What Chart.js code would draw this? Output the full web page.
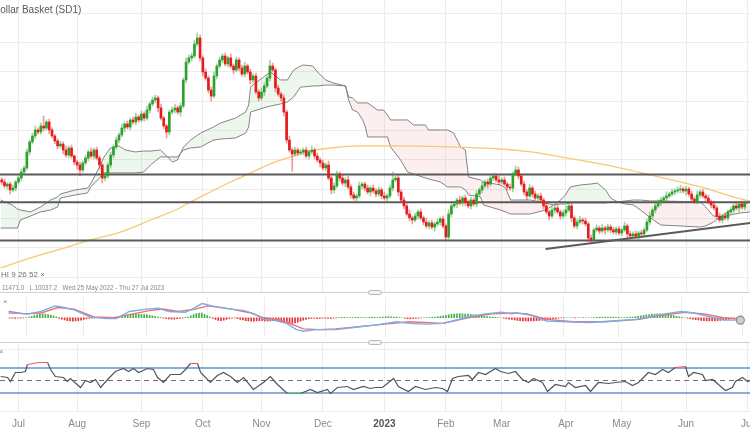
<!DOCTYPE html>
<html><head><meta charset="utf-8">
<script src="https://cdn.jsdelivr.net/npm/chart.js@4.4.0/dist/chart.umd.min.js"></script>
<style>
html,body{margin:0;padding:0;background:#fff;width:750px;height:430px;overflow:hidden;font-family:"Liberation Sans",Arial,sans-serif;}
.pane{position:absolute;left:0;width:750px;}
canvas{display:block;}
.txt{position:absolute;white-space:pre;color:#777;}
.sep{position:absolute;left:0;width:750px;height:1px;background:#d2d2d2;}
.handle{position:absolute;left:368px;width:14px;height:5px;border:1px solid #b5b5b5;background:#f3f3f3;border-radius:3px;box-sizing:border-box;}
</style></head><body>
<div class="pane" style="top:0;height:292px"><canvas id="main" width="750" height="292"></canvas></div>
<div class="pane" style="top:292px;height:50px"><canvas id="macd" width="750" height="50"></canvas></div>
<div class="pane" style="top:342px;height:88px"><canvas id="rsi" width="750" height="88"></canvas></div>
<div class="txt" style="left:-7px;top:4px;font-size:10px;line-height:12px;color:#5a5a5a">Dollar Basket (SD1)</div>
<div class="txt" style="left:1px;top:270px;font-size:8px;line-height:10px;color:#707070">HI 9 26 52 ×</div>
<div class="txt" style="left:2px;top:284px;font-size:6.3px;line-height:8px;color:#888">11471.0   L 10037.2   Wed 25 May 2022 - Thu 27 Jul 2023</div>
<div class="sep" style="top:292px"></div>
<div class="sep" style="top:342px"></div>
<div class="handle" style="top:290px"></div>
<div class="handle" style="top:340px"></div>
<div class="txt" style="left:3px;top:297px;font-size:8px;line-height:10px;color:#888">×</div>
<div class="txt" style="left:-1px;top:347px;font-size:8px;line-height:10px;color:#888">×</div>
<script>
// ---------- data ----------
const monthTicks  = [0,21,44,66,87,109,131,153,173,196,216,239,261];
const monthLabels = ['Jul','Aug','Sep','Oct','Nov','Dec','2023','Feb','Mar','Apr','May','Jun','Jul'];
const priceGrid   = [9800,10000,10200,10400,10600,10800,11000,11200,11400,11600];
const rsiGrid     = [0,100];

const firstIndex = -6;
const firstOpen  = 10462;
const closes = [
10448,10421,10434,10394,10407,10448,10475,10516,10544,10653,
10721,10762,10803,10789,10830,10816,10857,10803,10762,10728,
10694,10707,10666,10632,10680,10625,10584,10564,10530,10578,
10612,10653,10625,10666,10612,10564,10475,10489,10564,10632,
10687,10734,10769,10816,10844,10823,10871,10857,10891,10871,
10912,10884,10939,10980,11007,11021,10953,10884,10830,10789,
10925,10939,10953,10925,10966,11144,11266,11294,11307,11389,
11430,11294,11198,11157,11075,11034,11171,11239,11280,11307,
11253,11294,11239,11212,11280,11225,11184,11239,11198,11144,
11171,11062,11021,11062,11103,11157,11239,11212,11089,11048,
11021,10925,10734,10666,10639,10666,10646,10653,10666,10625,
10653,10666,10625,10598,10578,10544,10564,10475,10394,10421,
10503,10475,10441,10462,10414,10360,10339,10353,10421,10434,
10407,10380,10407,10387,10366,10394,10353,10339,10353,10407,
10462,10475,10380,10325,10285,10230,10203,10189,10216,10244,
10203,10175,10148,10169,10141,10162,10175,10196,10148,10073,
10230,10285,10298,10325,10305,10339,10312,10285,10325,10298,
10366,10394,10421,10448,10434,10475,10489,10462,10448,10462,
10434,10414,10407,10503,10530,10489,10434,10380,10353,10407,
10366,10339,10353,10325,10285,10244,10216,10257,10271,10244,
10216,10237,10257,10285,10203,10148,10175,10189,10182,10162,
10066,10053,10121,10134,10114,10134,10121,10141,10121,10107,
10128,10100,10121,10148,10094,10080,10094,10080,10100,10094,
10121,10175,10216,10257,10285,10312,10325,10339,10353,10366,
10380,10387,10394,10400,10387,10400,10366,10332,10319,10360,
10380,10353,10339,10312,10291,10271,10216,10189,10216,10203,
10244,10257,10285,10271,10298,10278,10305];
const upWick = [
14,20,10,14,20,10,14,20,14,20, 14,20,27,14,20,68,14,20,14,10,
14,20,14,27,14,20,10,14,20,14, 20,14,27,14,20,14,10,20,14,20,
14,20,14,27,14,20,14,20,27,14, 20,14,27,14,20,20,14,27,14,10,
14,20,27,14,20,14,27,20,20,27, 34,20,14,20,14,20,27,14,20,14,
20,14,27,14,20,14,20,27,14,20, 14,20,14,27,20,14,41,20,14,20,
14,20,14,27,14,20,14,20,14,20, 14,27,14,20,14,20,14,27,14,20,
20,14,20,14,27,14,20,14,27,14, 14,20,14,20,14,20,14,27,14,20,
55,14,20,14,20,14,27,14,20,14, 20,14,27,14,20,14,20,14,20,14,
27,14,20,14,27,14,20,14,20,14, 20,14,27,14,20,14,20,14,27,14,
20,14,20,14,27,20,14,20,14,27, 14,20,14,20,14,27,14,20,14,20,
14,20,27,14,20,14,20,27,14,20, 14,20,14,20,14,27,14,20,14,20,
14,20,14,27,14,20,14,20,14,20, 14,20,27,14,20,14,20,14,27,14,
20,14,20,27,14,20,14,20,14,27, 14,20,14,20,14,27,14,20,14,20,
14,20,14,27,14,20,14];
const dnWick = [
20,14,20,27,14,20,14,20,14,14, 20,14,20,14,14,20,14,27,14,20,
20,14,27,14,20,14,20,27,41,14, 14,20,14,20,14,27,34,20,14,20,
20,14,20,14,27,14,20,14,20,14, 14,20,14,20,14,20,27,14,20,41,
20,14,20,14,27,14,20,14,20,14, 14,20,27,14,20,34,14,20,14,20,
14,20,14,27,14,20,14,20,14,27, 20,14,20,14,27,14,20,14,27,14,
20,27,20,14,118,14,20,14,20,14, 20,14,20,14,27,14,20,14,27,20,
14,20,14,27,14,20,14,20,14,20, 20,14,27,14,20,14,20,14,20,14,
20,14,27,14,20,14,20,27,14,20, 14,20,14,20,14,27,14,20,14,20,
14,20,14,27,14,20,27,14,20,14, 20,14,20,14,27,14,20,14,20,14,
14,20,14,27,14,20,14,20,27,14, 20,14,20,14,20,14,27,14,20,14,
20,14,20,14,27,14,20,14,20,14, 20,14,20,14,20,14,27,14,20,14,
20,14,20,14,27,14,20,14,27,14, 20,14,20,14,20,14,27,14,20,14,
14,20,14,20,14,27,14,20,14,20, 20,14,27,14,20,14,20,14,20,14,
20,14,20,14,27,14,20];

const levels = [10500,10310,10050];
const trendX = [188.7,262.1];
const trendY = [9991,10169];

const maX = [-6.4,4.3,15.0,25.8,36.5,47.3,56.2,61.6,68.7,75.9,83.1,90.2,97.4,104.5,111.7,122.4,136.8,154.7,172.6,183.4,194.1,208.4,226.3,244.2,260.3,262.1];
const maY = [9862,9930,9991,10053,10107,10189,10257,10312,10380,10448,10510,10571,10619,10660,10680,10694,10694,10687,10673,10653,10619,10571,10496,10414,10325,10319];

const cloudX = [-6.4,-2.2,-0.4,0.7,4.3,7.9,11.5,14.0,15.0,20.4,24.7,25.8,29.4,30.4,32.9,35.8,38.3,41.9,44.8,47.3,50.8,53.4,55.1,56.9,59.1,61.6,65.2,69.8,72.3,77.7,81.3,82.4,83.1,87.7,90.2,93.8,96.3,98.5,101.0,102.0,105.3,107.1,109.9,112.8,117.1,118.2,119.6,121.4,123.2,124.2,125.0,128.5,130.7,132.1,133.2,136.8,139.3,141.4,145.7,146.8,151.1,153.6,155.8,158.3,160.0,161.1,165.4,166.5,172.6,174.4,176.2,183.3,188.7,191.6,194.1,195.8,197.6,201.2,204.8,207.3,210.2,212.0,214.5,217.3,220.2,222.7,226.3,229.9,244.2,246.0,248.8,251.3,254.9,258.5,262.1];
const spanA = [10325,10291,10264,10257,10244,10278,10325,10346,10366,10394,10407,10434,10564,10612,10680,10694,10666,10653,10659,10659,10666,10619,10584,10598,10687,10734,10782,10823,10850,10884,10925,10973,11096,11164,11198,11144,11144,11212,11239,11246,11239,11198,11144,11123,11103,11007,10939,10925,10871,10823,10755,10755,10755,10755,10687,10598,10516,10503,10475,10469,10448,10414,10414,10414,10394,10360,10346,10291,10257,10244,10230,10230,10257,10291,10325,10360,10414,10428,10434,10441,10394,10339,10312,10298,10291,10257,10203,10155,10141,10148,10175,10209,10257,10291,10312];
const spanB = [10134,10134,10134,10189,10216,10244,10257,10278,10339,10360,10373,10414,10482,10510,10510,10510,10510,10510,10516,10564,10619,10619,10619,10619,10666,10680,10687,10734,10741,10748,10782,10823,10925,10953,10966,10980,10994,11028,11096,11096,11103,11103,11109,11109,11103,11028,11021,10987,10987,10987,10987,10939,10939,10905,10871,10871,10871,10837,10837,10803,10803,10803,10782,10687,10666,10482,10462,10448,10428,10407,10325,10325,10305,10291,10298,10298,10305,10305,10305,10305,10305,10312,10312,10319,10325,10325,10319,10319,10312,10278,10216,10209,10223,10237,10244];

const macdX    = [-6.4,0.7,5.4,10.4,12.5,17.5,23.3,29.4,32.9,37.6,43.7,48.3,51.9,58.0,60.5,64.1,67.7,74.8,79.5,83.1,86.6,90.2,94.9,98.5,101.0,105.6,112.8,117.8,122.4,127.8,135.0,139.6,145.7,151.8,155.4,161.1,167.2,173.3,176.9,179.0,184.0,189.7,196.9,205.5,213.7,222.0,227.0,232.7,238.8,243.4,249.5,254.2,260.3];
const macdLine = [60,50,80,150,140,100,10,-10,-10,80,110,120,80,70,110,180,150,110,90,50,-20,-30,-70,-150,-170,-150,-150,-130,-110,-90,-50,-70,-80,-70,-40,10,50,70,50,60,30,-40,-50,-60,-40,-20,10,50,80,60,10,-30,-30];
const signalX    = [-6.4,-0.4,5.4,11.5,17.5,24.7,31.9,39.0,44.8,49.8,55.5,61.6,66.2,74.8,82.0,86.6,92.7,97.4,101.0,107.0,112.8,127.8,139.6,151.8,161.1,169.7,177.9,182.6,189.7,199.4,211.2,223.4,231.6,239.9,247.0,254.2,260.3];
const signalLine = [80,50,60,130,110,10,0,50,90,110,80,110,150,110,60,0,-30,-90,-140,-150,-140,-90,-50,-70,0,50,60,50,-20,-50,-50,-20,30,70,50,0,-20];
const histogram = [
-5,-5,-8,-6,-4,-2,0,
10,20,30,38,45,50,48,42,35,25,12,
-8,-18,-28,-35,-40,-42,-40,-35,-30,-22,-15,-8,
-4,-2,2,4,3,-2,-4,-3,0,3,
10,18,26,34,42,48,50,48,45,42,38,32,25,18,10,
4,-4,-10,-15,-18,-16,-12,-8,-4,2,10,
25,40,52,60,58,45,28,10,
-8,-22,-32,-36,-30,-20,-10,-4,-2,
-10,-20,-28,-35,-40,-42,-44,-40,-38,-35,-38,-42,-40,
-35,-40,-48,-55,-62,-68,-72,-70,-65,-55,-42,-30,-20,-12,
-8,-6,-10,-8,-5,-4,-8,-10,-6,
-2,4,6,5,3,2,4,6,5,3,2,4,6,8,6,4,
8,10,12,14,12,10,8,4,0,-6,
-12,-15,-12,-8,-4,-2,0,2,4,6,10,14,20,
26,32,38,44,48,50,52,50,48,46,44,40,36,30,25,20,16,12,8,5,2,0,
-4,-10,-16,-22,-28,-32,-36,-38,-40,-42,-40,-38,-36,-34,-30,-26,-22,-18,-14,-10,-6,-3,
-1,0,1,0,-1,0,1,2,1,0,1,
4,6,8,8,10,10,8,8,6,6,4,4,6,8,10,14,
20,26,32,38,42,46,48,50,50,48,44,40,34,28,20,12,5,0,
-6,-12,-18,-24,-28,-32,-36,-38,-40,-40,-38,-36,-32,-28,-24,-20,-15,-10,-6,-3];

const rsiX = [-6.4,-3.9,-2.9,-1.1,0.7,2.5,3.2,5.4,7.2,9.0,10.4,11.5,13.2,16.1,17.5,18.6,22.2,24.0,25.8,27.6,29.4,31.9,34.7,37.6,39.4,41.2,43.0,46.2,48.3,49.8,51.9,54.4,58.0,59.8,61.6,64.1,65.2,68.7,71.2,73.4,75.9,78.4,80.6,84.1,87.7,90.2,92.7,96.3,101.0,104.5,107.0,110.6,111.7,114.2,117.8,119.9,123.5,126.0,127.8,130.3,132.5,134.3,136.0,139.6,142.1,145.7,149.3,151.8,153.6,155.4,157.5,161.1,162.5,164.7,167.2,170.8,172.6,175.4,177.9,180.4,182.6,184.4,187.6,189.4,192.2,195.8,196.9,199.4,203.0,204.8,207.6,211.2,213.7,217.3,219.8,222.0,225.5,228.0,230.6,232.7,235.2,238.8,239.9,241.7,244.9,246.0,248.5,250.6,253.1,255.6,256.7,259.2,261.0,262.1];
const rsiValues = [56.4,54.8,48.4,62.8,62.8,64.4,75.6,77.2,78.8,78.8,78.8,67.6,56.4,54.8,48.4,53.2,38.8,50,46.8,51.6,38.8,51.6,64.4,69.2,64.4,69.2,62.8,69.2,67.6,54.8,46.8,59.6,59.6,67.6,77.2,77.2,62.8,46.8,58,62.8,56.4,46.8,54.8,35.6,46.8,56.4,43.6,29.2,29.2,35.6,30.8,35.6,29.2,38.8,40.4,35.6,40.4,37.2,38.8,38.8,46.8,53.2,40.4,32.4,40.4,35.6,38.8,37.2,32.4,53.2,56.4,58,51.6,62.8,59.6,69.2,64.4,61.2,64.4,51.6,46.8,53.2,46.8,32.4,43.6,40.4,46.8,38.8,42,32.4,46.8,45.2,46.8,48.4,42,46.8,62.8,59.6,67.6,62.8,70.8,72.4,56.4,62.8,59.6,50,51.6,43.6,34,38.8,48.4,54.8,48.4,50];
const rsiLevels = [70,50,30];

// ---------- build ----------
Chart.defaults.font.family = "'Liberation Sans', Arial, sans-serif";
const X_MIN = -6.62, X_MAX = 261.9;
const UP='rgb(46,160,46)', DN='rgb(228,28,28)', UPW='rgba(46,160,46,0.45)', DNW='rgba(228,28,28,0.45)';

const bodies=[], wicks=[], bodyCol=[], wickCol=[];
closes.forEach((c,k)=>{
  const x = firstIndex + k;
  const o = k===0 ? firstOpen : closes[k-1];
  const up = c >= o;
  bodies.push({x:x, y:[o,c]});
  wicks.push({x:x, y:[Math.min(o,c)-dnWick[k], Math.max(o,c)+upWick[k]]});
  bodyCol.push(up?UP:DN); wickCol.push(up?UPW:DNW);
});
const pts = (xs, ys) => xs.map((x,i)=>({x:x, y:ys[i]}));
const across = v => [{x:X_MIN,y:v},{x:X_MAX,y:v}];
const isYear = c => !!(c && c.tick && monthLabels[monthTicks.indexOf(c.tick.value)]==='2023');

const xScale = extra => Object.assign({
  type:'linear', min:X_MIN, max:X_MAX, offset:false,
  grid:{color:'#ececec', drawTicks:false, offset:false},
  border:{display:false}, ticks:{display:false},
  afterBuildTicks:s=>{ s.ticks = monthTicks.map(v=>({value:v})); }
}, extra||{});
const base = scales => ({responsive:false, animation:false, events:[], layout:{padding:0},
  plugins:{legend:{display:false}, tooltip:{enabled:false}}, scales:scales});

new Chart(document.getElementById('main'), {
  type:'bar',
  data:{datasets:[
    {type:'bar', data:bodies, backgroundColor:bodyCol, barThickness:2, grouped:false, minBarLength:1, borderWidth:0, order:1},
    {type:'bar', data:wicks, backgroundColor:wickCol, barThickness:1, grouped:false, borderWidth:0, order:2},
    ...levels.map(v=>({type:'line', data:across(v), borderColor:'#5a5a5a', borderWidth:2, pointRadius:0, order:3})),
    {type:'line', data:pts(trendX,trendY), borderColor:'#5a5a5a', borderWidth:2, pointRadius:0, order:3},
    {type:'line', data:pts(maX,maY), borderColor:'rgb(250,200,110)', borderWidth:1.3, pointRadius:0, cubicInterpolationMode:'monotone', order:4},
    {type:'line', data:pts(cloudX,spanA), borderColor:'rgba(125,125,125,0.95)', borderWidth:1, pointRadius:0,
      fill:{target:'+1', above:'rgba(90,180,90,0.10)', below:'rgba(225,110,110,0.11)'}, order:6},
    {type:'line', data:pts(cloudX,spanB), borderColor:'rgba(125,125,125,0.95)', borderWidth:1, pointRadius:0, fill:false, order:5}
  ]},
  options: base({
    x: xScale(),
    y: {type:'linear', min:9698, max:11689, grid:{color:'#ececec', drawTicks:false}, border:{display:false}, ticks:{display:false},
        afterBuildTicks:s=>{ s.ticks = priceGrid.map(v=>({value:v})); }}
  })
});

new Chart(document.getElementById('macd'), {
  type:'bar',
  data:{datasets:[
    {type:'line', data:pts(macdX,macdLine), borderColor:'rgb(120,175,235)', borderWidth:1.4,
      pointRadius:c=> c.dataIndex===macdX.length-1 ? 4 : 0, pointBackgroundColor:'#cccccc', pointBorderColor:'#8a8a8a', pointBorderWidth:1.2, order:1},
    {type:'line', data:pts(signalX,signalLine), borderColor:'rgb(240,110,110)', borderWidth:1.4, pointRadius:0, order:2},
    {type:'bar', data:histogram.map((h,k)=>({x:firstIndex+k, y:h})), backgroundColor:histogram.map(h=>h>=0?'rgb(70,175,70)':'rgb(230,50,50)'),
      barThickness:1, grouped:false, borderWidth:0, order:3}
  ]},
  options: base({
    x: xScale(),
    y: {type:'linear', min:-240, max:260, grid:{display:false}, border:{display:false}, ticks:{display:false}}
  })
});

const rsiColor = c => {
  const a=c.p0.parsed.y, b=c.p1.parsed.y;
  if (a>=70 && b>=70) return 'rgb(240,90,90)';
  if (a<=30 && b<=30) return 'rgb(80,190,80)';
  return '#555555';
};
new Chart(document.getElementById('rsi'), {
  type:'line',
  data:{datasets:[
    {data:pts(rsiX,rsiValues), borderColor:'#555555', borderWidth:1.2, pointRadius:0, segment:{borderColor:rsiColor}, order:1},
    {data:across(rsiLevels[0]), borderColor:'rgb(105,145,205)', borderWidth:1.3, pointRadius:0, order:2},
    {data:across(rsiLevels[1]), borderColor:'#707070', borderWidth:1, borderDash:[5,4], pointRadius:0, order:2},
    {data:across(rsiLevels[2]), borderColor:'rgb(105,145,205)', borderWidth:1.3, pointRadius:0, order:2}
  ]},
  options: base({
    x: xScale({
      ticks:{display:true, autoSkip:false, maxRotation:0, minRotation:0, padding:6,
        color:c=> isYear(c) ? '#555' : '#8a8a8a',
        font:c=> ({size:10, weight: isYear(c) ? 'bold' : 'normal'}),
        callback:v=> monthLabels[monthTicks.indexOf(v)]},
      afterFit:s=>{ s.height=18; s.paddingLeft=0; s.paddingRight=0; }
    }),
    y: {type:'linear', min:-0.4, max:111.6, grid:{color:'#eeeeee', drawTicks:false}, border:{display:false}, ticks:{display:false},
        afterBuildTicks:s=>{ s.ticks = rsiGrid.map(v=>({value:v})); }}
  })
});
</script>
</body></html>
